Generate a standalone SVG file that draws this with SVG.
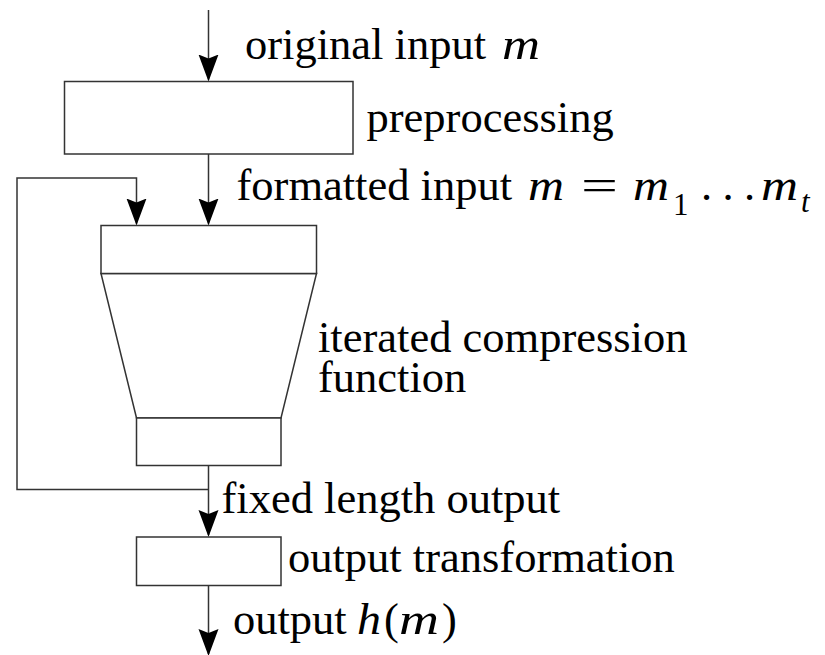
<svg xmlns="http://www.w3.org/2000/svg" width="825" height="655" viewBox="0 0 825 655">
  <defs>
    <style>
      .box { fill: #ffffff; stroke: #333333; stroke-width: 1.5; }
      .wire { fill: none; stroke: #333333; stroke-width: 1.5; }
      .txt { font-family: "Liberation Serif", "Times New Roman", serif; font-size: 44.5px; fill: #000000; }
      .mi { font-style: italic; }
      .sub { font-size: 31px; }
    </style>
    <marker id="arrow" markerUnits="userSpaceOnUse" markerWidth="32" markerHeight="26" viewBox="0 -13 32 26" refX="25" refY="0" orient="auto">
      <path d="M27,0 L0,-10 L4,0 L0,10 Z" fill="#000000"/>
    </marker>
  </defs>
  <rect width="825" height="655" fill="#ffffff"/>

  <g id="connectors">
    <line class="wire" x1="208.5" y1="10" x2="208.5" y2="79.5" marker-end="url(#arrow)"/>
    <line class="wire" x1="208.5" y1="154" x2="208.5" y2="223.5" marker-end="url(#arrow)"/>
    <polyline class="wire" points="208.5,489.5 17,489.5 17,178 136.5,178 136.5,223.5" marker-end="url(#arrow)"/>
    <line class="wire" x1="208.5" y1="465.5" x2="208.5" y2="535" marker-end="url(#arrow)"/>
    <line class="wire" x1="208.5" y1="585.5" x2="208.5" y2="654" marker-end="url(#arrow)"/>

    <text id="label-original-input" class="txt" x="245" y="59">original input<tspan class="mi" x="502" textLength="38" lengthAdjust="spacingAndGlyphs">m</tspan></text>
    <text id="label-formatted-input" class="txt" x="236.5" y="200">formatted input<tspan class="mi" x="528" textLength="36" lengthAdjust="spacingAndGlyphs">m</tspan><tspan x="581" textLength="37" lengthAdjust="spacingAndGlyphs">=</tspan><tspan class="mi" x="633" textLength="36" lengthAdjust="spacingAndGlyphs">m</tspan><tspan class="sub" x="673" dy="15">1</tspan><tspan x="701 722.5 744" dy="-15">...</tspan><tspan class="mi" x="761" textLength="37" lengthAdjust="spacingAndGlyphs">m</tspan><tspan class="mi sub" x="801" dy="12">t</tspan></text>
    <text id="label-fixed-length-output" class="txt" x="221.5" y="513">fixed length output</text>
    <text id="label-output" class="txt" x="233" y="634">output<tspan class="mi" x="357" textLength="24" lengthAdjust="spacingAndGlyphs">h</tspan><tspan x="384">(</tspan><tspan class="mi" x="399" textLength="40" lengthAdjust="spacingAndGlyphs">m</tspan><tspan x="442">)</tspan></text>
  </g>

  <g id="node-preprocessing">
    <rect class="box" x="64.5" y="81.5" width="288.5" height="72.5"/>
    <text class="txt" x="366.5" y="132">preprocessing</text>
  </g>

  <g id="node-compression">
    <polygon class="box" points="101,273.5 316.5,273.5 281,418 136.5,418"/>
    <rect class="box" x="101" y="225.5" width="215.5" height="48"/>
    <rect class="box" x="136.5" y="418" width="144.5" height="47.5"/>
    <text class="txt" x="318" y="352">iterated compression<tspan x="318" dy="40">function</tspan></text>
  </g>

  <g id="node-output-transformation">
    <rect class="box" x="136.5" y="537" width="144.5" height="48.5"/>
    <text class="txt" x="288" y="572">output transformation</text>
  </g>
</svg>
